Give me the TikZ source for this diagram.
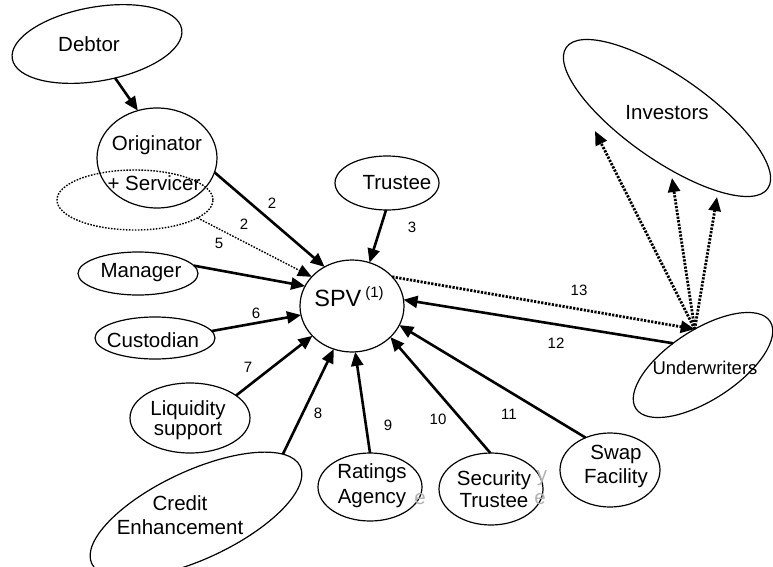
\documentclass[tikz,border=0pt]{standalone}
\usepackage{fontspec}
\setmainfont{Liberation Sans}
\usetikzlibrary{arrows.meta,shapes.geometric}
\begin{document}
\begin{tikzpicture}[x=1pt,y=-1pt,
 ell/.style={draw, shape=ellipse, line width=1.2pt, inner sep=0pt, outer sep=0pt},
 txt/.style={font=\fontsize{20.5}{24}\selectfont, align=center, inner sep=0pt},
 lbl/.style={font=\fontsize{15}{18}\selectfont, inner sep=0pt},
 arr/.style={line width=2.6pt, -{Triangle[length=14pt,width=12pt]}},
 dotarr/.style={line width=2.8pt, dash pattern=on 2.2pt off 1.4pt, -{Triangle[length=14pt,width=12pt]}},
 thindot/.style={line width=1.4pt, dash pattern=on 1.6pt off 1.4pt},
 ghost/.style={text=black!30, font=\fontsize{20.5}{24}\selectfont, inner sep=0pt}]
\useasboundingbox (0,0) rectangle (773,567);
\clip (0,0) rectangle (773,567);

% ellipses
\node[ell, minimum width=172pt, minimum height=74pt, rotate=10] (deb) at (97,44) {};
\node[ell, minimum width=120pt, minimum height=100pt] (orig) at (157,158) {};
\node[ell, thindot, minimum width=156pt, minimum height=60pt] (serv) at (135,200) {};
\node[ell, minimum width=104pt, minimum height=54pt] (trus) at (387,183) {};
\node[ell, minimum width=120pt, minimum height=43pt] (man) at (138,273.5) {};
\node[ell, minimum width=120pt, minimum height=42pt] (cus) at (155,338) {};
\node[ell, minimum width=120pt, minimum height=70pt] (liq) at (190,418) {};
\node[ell, minimum width=230pt, minimum height=88pt, rotate=25] (cred) at (196,515) {};
\node[ell, minimum width=104pt, minimum height=68pt] (rat) at (370,487) {};
\node[ell, minimum width=104pt, minimum height=72pt] (sec) at (491,489) {};
\node[ell, minimum width=100pt, minimum height=74pt] (swap) at (610,470) {};
\node[ell, minimum width=104pt, minimum height=92pt] (spv) at (352,306) {};
\node[ell, minimum width=160pt, minimum height=70pt, rotate=33] (und) at (703,365) {};
\node[ell, minimum width=246pt, minimum height=84pt, rotate=-35] (inv) at (667,118) {};

% texts
\node[txt] (debt) at (89,44) {Debtor};
\node[txt] (origt1) at (157,145) {Originator};
\node[txt] (origt2) at (154,183) {+ Servicer};
\node[txt] (trust) at (397,183) {Trustee};
\node[txt] (mant) at (141,273) {Manager};
\node[txt] (cust) at (153,340) {Custodian};
\node[txt, font=\fontsize{20.5}{20}\selectfont] (liqt) at (188,420) {Liquidity\\support};
\node[txt, font=\fontsize{20.5}{24}\selectfont] (credt) at (180,515) {Credit\\Enhancement};
\node[txt, font=\fontsize{20.5}{25}\selectfont] (ratt) at (372,486) {Ratings\\Agency};
\node[txt, font=\fontsize{20.5}{22}\selectfont] (sect) at (494,489) {Security\\Trustee};
\node[txt, font=\fontsize{20.5}{24}\selectfont] (swapt) at (616,466) {Swap\\Facility};
\node[inner sep=0pt] (spvt) at (349,297) {\fontsize{23.5}{28}\selectfont SPV\,\raisebox{9pt}{\fontsize{15}{18}\selectfont (1)}};
\node[txt, font=\fontsize{18.5}{22}\selectfont] (undt) at (705,368) {Underwriters};
\node[txt] (invt) at (667,113) {Investors};
\node[ghost] (g1) at (420,499) {e};
\node[ghost] (g2) at (542,478) {y};
\node[ghost] (g3) at (540,499) {e};

% free ends
\coordinate (inv1) at (595,131);
\coordinate (inv2) at (672,178);
\coordinate (inv3) at (717,197);

% connectors
\draw[arr] (deb.-72) -- (orig.112);
\draw[arr] (orig.-14) -- (spv.125);
\draw[thindot, -{Triangle[length=14pt,width=12pt]}] (serv.-16) -- (spv.144);
\draw[arr] (trus.-92) -- (spv.68);
\draw[arr] (man.8) -- (spv.157);
\draw[arr] (cus.7) -- (spv.190);
\draw[arr] (liq.26) -- (spv.217);
\draw[arr] (cred.10) -- (spv.247);
\draw[arr] (rat.90) -- (spv.274);
\draw[arr] (sec.91) -- (spv.321);
\draw[arr] (swap.127) -- (spv.338);
\draw[arr] (und.111) -- (spv.7);
\draw[dotarr] (spv.36) -- (und.70);
\draw[dotarr] (und.70) -- (inv1);
\draw[dotarr] (und.70) -- (inv2);
\draw[dotarr] (und.70) -- (inv3);

% labels
\node[lbl] (l2a) at (272,203) {2};
\node[lbl] (l2b) at (244,224) {2};
\node[lbl] (l5) at (219,243) {5};
\node[lbl] (l3) at (412,227) {3};
\node[lbl] (l6) at (256,313) {6};
\node[lbl] (l7) at (248,367) {7};
\node[lbl] (l8) at (318,413) {8};
\node[lbl] (l9) at (388,425) {9};
\node[lbl] (l10) at (438,419) {10};
\node[lbl] (l11) at (509,414) {11};
\node[lbl] (l12) at (556,343) {12};
\node[lbl] (l13) at (579,290) {13};
\end{tikzpicture}
\end{document}
